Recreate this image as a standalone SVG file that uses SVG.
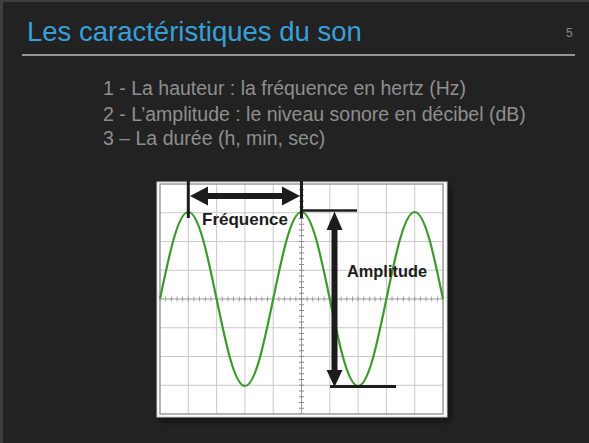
<svg xmlns="http://www.w3.org/2000/svg" width="589" height="443" viewBox="0 0 589 443">
  <defs>
    <filter id="shadow" x="-10%" y="-10%" width="120%" height="120%">
      <feGaussianBlur stdDeviation="2.5"/>
    </filter>
  </defs>
  <style>
    .title { font-family: "Liberation Sans", Arial, sans-serif; font-size: 27.5px; fill: #37a0d9; }
    .num { font-family: "Liberation Sans", Arial, sans-serif; font-size: 12px; fill: #8a8a8a; }
    .bullet { font-family: "Liberation Sans", Arial, sans-serif; font-size: 19.5px; fill: #8f8f8f; }
    .lbl { font-family: "Liberation Sans", Arial, sans-serif; font-size: 16.5px; font-weight: bold; fill: #1c1c1c; }
    .grid { stroke: #c9c9c9; stroke-width: 1; fill: none; }
    .wave { stroke: #3a9b2b; stroke-width: 2.2; fill: none; }
    .blk { fill: #1c1c1c; }
  </style>

  <!-- slide background -->
  <rect x="0" y="0" width="589" height="443" fill="#3e3e3e"/>
  <rect x="3" y="2" width="586" height="441" fill="#222222"/>

  <g id="title">
    <text class="title" x="27" y="41">Les caractéristiques du son</text>
    <line x1="22" y1="55" x2="575" y2="55" stroke="#bdbdbd" stroke-width="1.5"/>
    <text class="num" x="566" y="37">5</text>
  </g>

  <g id="bullets">
    <text class="bullet" x="103" y="95">1 - La hauteur : la fréquence en hertz (Hz)</text>
    <text class="bullet" x="103" y="120.5">2 - L’amplitude : le niveau sonore en décibel (dB)</text>
    <text class="bullet" x="103" y="145">3 – La durée (h, min, sec)</text>
  </g>

  <g id="oscilloscope">
    <rect x="160" y="186" width="290" height="235" fill="#0a0a0a" opacity="0.8" filter="url(#shadow)"/>
    <rect x="157" y="182" width="290" height="235" fill="#ffffff" stroke="#d0d0d0" stroke-width="1"/>
    <path class="grid" d="M188.3,184V414 M216.6,184V414 M244.9,184V414 M273.2,184V414 M329.8,184V414 M358.1,184V414 M386.4,184V414 M414.7,184V414
      M160,212.75H443 M160,241.5H443 M160,270.25H443 M160,327.75H443 M160,356.5H443 M160,385.25H443"/>
    <line x1="160" y1="299" x2="443" y2="299" stroke="#9a9a9a" stroke-width="1"/>
    <line x1="301.5" y1="184" x2="301.5" y2="414" stroke="#9a9a9a" stroke-width="1"/>
    <line x1="160" y1="299" x2="443" y2="299" stroke="#8a8a8a" stroke-width="5" stroke-dasharray="0.8 4.86" stroke-dashoffset="0.4"/>
    <line x1="301.5" y1="184" x2="301.5" y2="414" stroke="#8a8a8a" stroke-width="5" stroke-dasharray="0.8 4.95" stroke-dashoffset="0.4"/>
    <rect x="160" y="184" width="283" height="230" fill="none" stroke="#9a9a9a" stroke-width="1.5"/>
    <path class="wave" d="M160,299 C169.23,254.43 178.06,212 188.3,212 C198.54,212 207.37,254.43 216.6,299
      C225.83,343.57 234.66,386 244.9,386 C255.14,386 263.97,343.57 273.2,299
      C282.43,254.43 291.26,212 301.5,212 C311.74,212 320.57,254.43 329.8,299
      C339.03,343.57 347.86,386 358.1,386 C368.34,386 377.17,343.57 386.4,299
      C395.63,254.43 404.46,212 414.7,212 C424.94,212 433.77,254.43 443,299"/>
  </g>

  <g id="connectors">
    <g id="frequence-arrow">
      <rect class="blk" x="186.8" y="181" width="3" height="37"/>
      <rect class="blk" x="300" y="181" width="3" height="37"/>
      <rect class="blk" x="206" y="193" width="78" height="6"/>
      <polygon class="blk" points="190,196 208,186.5 208,205.5"/>
      <polygon class="blk" points="300,196 282,186.5 282,205.5"/>
    </g>
    <g id="amplitude-arrow">
      <line x1="301.5" y1="210.5" x2="357" y2="210.5" stroke="#1c1c1c" stroke-width="2.5"/>
      <line x1="330" y1="386.5" x2="396" y2="386.5" stroke="#1c1c1c" stroke-width="3"/>
      <rect class="blk" x="331.5" y="228" width="6" height="144"/>
      <polygon class="blk" points="334.5,211.5 326.5,230 342.5,230"/>
      <polygon class="blk" points="334.5,387 326.5,370 342.5,370"/>
    </g>
  </g>

  <g id="labels">
    <text class="lbl" x="202" y="225" textLength="86" lengthAdjust="spacingAndGlyphs">Fréquence</text>
    <text class="lbl" x="347" y="277" textLength="80" lengthAdjust="spacingAndGlyphs">Amplitude</text>
  </g>
</svg>
